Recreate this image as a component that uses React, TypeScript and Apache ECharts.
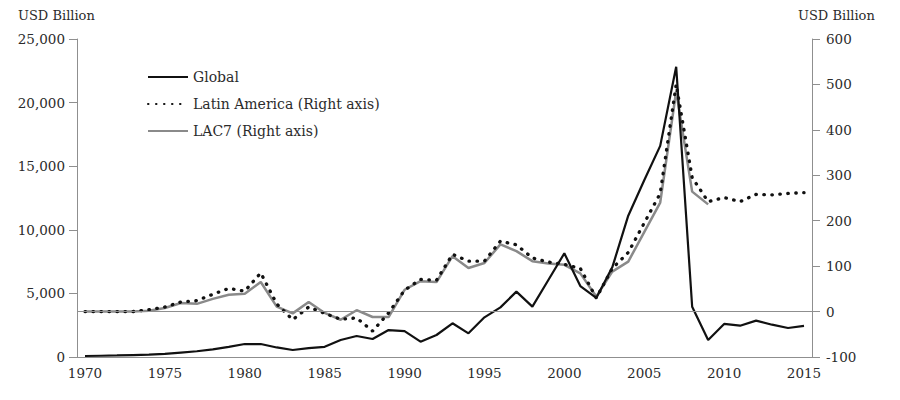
import React, { useEffect, useRef } from "react";
import * as echarts from "echarts";

const years: string[] = [];
for (let y = 1970; y <= 2015; y++) years.push(String(y));

const globalFdi = [
  80, 100, 120, 150, 180, 250, 350, 450, 600, 800,
  1020, 1020, 750, 550, 700, 800, 1340, 1650, 1415, 2120,
  2040, 1205, 1730, 2650, 1860, 3120, 3900, 5140, 3960, 6050,
  8150, 5580, 4640, 7050, 11110, 13900, 16600, 22820, 3950, 1340,
  2600, 2460, 2860, 2540, 2280, 2440,
];

const latinAmerica = [
  0, 0, 0, 0, 4, 10, 21, 24, 38, 51,
  45, 85, 17, -18, 10, -4, -17, -14, -43, -3,
  47, 71, 69, 126, 111, 111, 155, 147, 118, 109,
  104, 95, 30, 95, 130, 195, 260, 500, 295, 242,
  251, 242, 258, 257, 260, 262,
];

const lac7 = [
  0, 0, 0, 0, 2, 8, 19, 17, 28, 37,
  39, 65, 11, -4, 21, -3, -18, 3, -12, -12,
  48, 67, 65, 122, 96, 107, 148, 133, 111, 106,
  103, 84, 33, 88, 110, 175, 240, 485, 264, 236,
  null, null, null, null, null, null,
];

const leftTicks = { min: 0, max: 25000, interval: 5000 };
const rightTicks = { min: -100, max: 600, interval: 100 };
const axisUnit = "USD Billion";
const seriesNames = ["Global", "Latin America (Right axis)", "LAC7 (Right axis)"];

const FONT = "DejaVu Serif";
const TEXT = "#2b2b2b";
const AXIS = "#8f8f8f";

export default function App() {
  const ref = useRef<HTMLDivElement>(null);
  useEffect(() => {
    if (!ref.current) return;
    const chart = echarts.init(ref.current, undefined, { renderer: "svg" });
    chart.setOption({
      animation: false,
      backgroundColor: "#ffffff",
      textStyle: { fontFamily: FONT },
      grid: { left: 77, right: 88, top: 39, bottom: 43 },
      legend: {
        orient: "vertical",
        left: 142,
        top: 65,
        itemWidth: 40,
        itemHeight: 14,
        itemGap: 13,
        data: seriesNames,
        itemStyle: { opacity: 0 },
        textStyle: { fontFamily: FONT, fontSize: 14, color: TEXT },
      },
      graphic: [
        {
          type: "text",
          left: 18,
          top: 9,
          style: { text: axisUnit, font: `13px "${FONT}"`, fill: TEXT },
        },
        {
          type: "text",
          left: 798,
          top: 9,
          style: { text: axisUnit, font: `13px "${FONT}"`, fill: TEXT },
        },
      ],
      xAxis: {
        type: "category",
        data: years,
        boundaryGap: true,
        axisLine: { show: true, lineStyle: { color: AXIS, width: 1 } },
        axisTick: { show: false },
        axisLabel: {
          interval: 4,
          margin: 9,
          color: TEXT,
          fontFamily: FONT,
          fontSize: 13.5,
        },
      },
      yAxis: [
        {
          type: "value",
          position: "left",
          min: leftTicks.min,
          max: leftTicks.max,
          interval: leftTicks.interval,
          axisLine: { show: true, lineStyle: { color: AXIS, width: 1 } },
          axisTick: { show: true, length: 8, lineStyle: { color: AXIS } },
          splitLine: { show: false },
          axisLabel: {
            margin: 12,
            color: TEXT,
            fontFamily: FONT,
            fontSize: 13.5,
            formatter: (v: number) => v.toLocaleString("en-US"),
          },
        },
        {
          type: "value",
          position: "right",
          min: rightTicks.min,
          max: rightTicks.max,
          interval: rightTicks.interval,
          axisLine: { show: true, lineStyle: { color: AXIS, width: 1 } },
          axisTick: { show: true, length: 8, lineStyle: { color: AXIS } },
          splitLine: { show: false },
          axisLabel: {
            margin: 14,
            color: TEXT,
            fontFamily: FONT,
            fontSize: 13.5,
          },
        },
      ],
      series: [
        {
          name: seriesNames[0],
          type: "line",
          yAxisIndex: 0,
          data: globalFdi,
          symbol: "none",
          z: 4,
          lineStyle: { color: "#111111", width: 2.2 },
          itemStyle: { color: "#111111" },
        },
        {
          name: seriesNames[1],
          type: "line",
          yAxisIndex: 1,
          data: latinAmerica,
          symbol: "none",
          z: 3,
          lineStyle: { color: "#111111", width: 3.3, type: [0.5, 7.5], cap: "round" },
          itemStyle: { color: "#111111" },
        },
        {
          name: seriesNames[2],
          type: "line",
          yAxisIndex: 1,
          data: lac7,
          symbol: "none",
          z: 2,
          connectNulls: false,
          lineStyle: { color: "#8a8a8a", width: 2.5 },
          itemStyle: { color: "#8a8a8a" },
          markLine: {
            silent: true,
            symbol: ["none", "none"],
            label: { show: false },
            lineStyle: { color: AXIS, width: 1, type: "solid" },
            data: [{ yAxis: 0 }],
          },
        },
      ],
    });
    return () => chart.dispose();
  }, []);
  return (
    <div
      ref={ref}
      style={{ position: "fixed", left: 0, top: 0, width: 900, height: 400 }}
    />
  );
}
